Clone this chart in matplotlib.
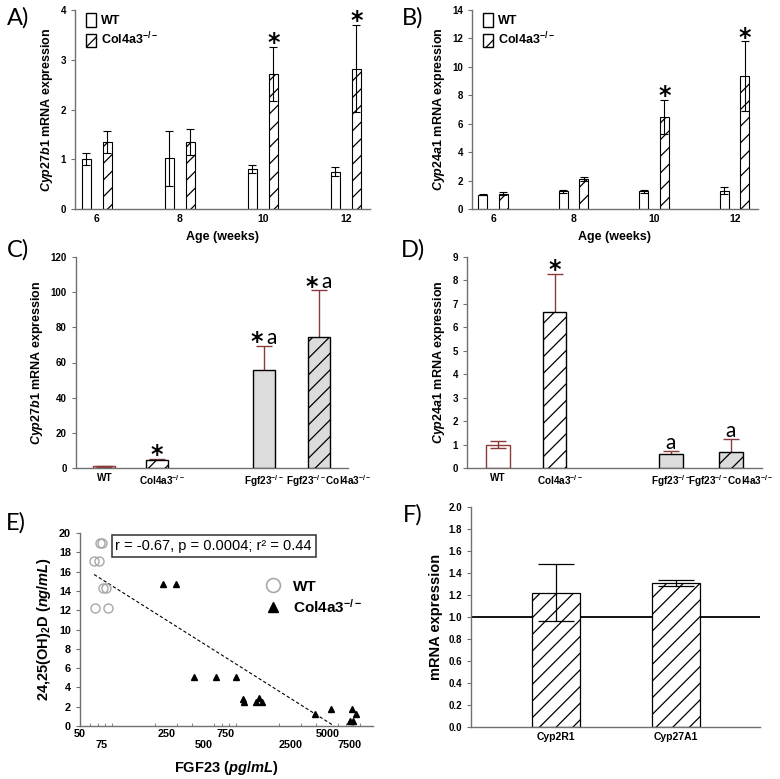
import matplotlib
matplotlib.use("Agg")
import matplotlib.pyplot as plt
import matplotlib.transforms as mtransforms
from matplotlib.lines import Line2D
from matplotlib.patches import Patch
from matplotlib.ticker import FixedLocator, NullFormatter
import numpy as np

plt.rcParams["font.family"] = ["Liberation Sans", "DejaVu Sans"]
plt.rcParams["mathtext.fontset"] = "custom"
plt.rcParams["mathtext.rm"] = "Liberation Sans:bold"
plt.rcParams["mathtext.bf"] = "Liberation Sans:bold"
plt.rcParams["mathtext.it"] = "Liberation Sans:italic:bold"
plt.rcParams["hatch.linewidth"] = 0.9

# ---- data ---------------------------------------------------------------
ages = [6, 8, 10, 12]
a_wt = [1.00, 1.02, 0.80, 0.75]
a_wt_err = [0.12, 0.55, 0.08, 0.09]
a_ko = [1.34, 1.34, 2.72, 2.82]
a_ko_err = [0.22, 0.26, 0.54, 0.88]
a_star = [False, False, True, True]

b_wt = [1.00, 1.25, 1.25, 1.30]
b_wt_err = [0.05, 0.10, 0.12, 0.25]
b_ko = [1.08, 2.10, 6.50, 9.35]
b_ko_err = [0.10, 0.12, 1.20, 2.45]
b_star = [False, False, True, True]

geno = ["WT", "Col4a3$^{-/-}$", "Fgf23$^{-/-}$", "Fgf23$^{-/-}$Col4a3$^{-/-}$"]
c_vals = [1.0, 4.5, 55.8, 74.5]
c_err = [0.3, 0.6, 13.5, 26.5]
c_star = [False, True, True, True]
c_a = [False, False, True, True]
d_vals = [1.0, 6.65, 0.58, 0.68]
d_err = [0.14, 1.63, 0.14, 0.55]
d_star = [False, True, False, False]
d_a = [False, False, True, True]

wt_fgf23 = [66.1, 84.1, 76.6, 81.1, 64.9, 71.1, 72.5, 75.3]
wt_d = [12.2, 12.2, 14.3, 14.3, 17.1, 17.1, 19.0, 19.0]
ko_fgf23 = [233, 297, 415, 625, 906, 1038, 1057, 1306, 1380, 1476,
            3953, 5284, 7850, 8360, 7520, 8000]
ko_d = [14.7, 14.7, 5.1, 5.1, 5.1, 2.8, 2.5, 2.5, 2.85, 2.5,
        1.25, 1.8, 1.8, 1.25, 0.55, 0.55]
fit_intercept, fit_slope = 30.4, -8.11
fit_range = [65, 5580]
e_ticks = [50, 75, 250, 500, 750, 2500, 5000, 7500]

f_genes = ["Cyp2R1", "Cyp27A1"]
f_vals = [1.22, 1.31]
f_err = [0.26, 0.03]

W, H = 780, 779
fig = plt.figure(figsize=(W / 100, H / 100), dpi=100)


def box(l, t, r, b):
    return fig.add_axes([l / W, 1 - b / H, (r - l) / W, (b - t) / H])


def style(ax, xsize=7.5):
    for s in ("top", "right"):
        ax.spines[s].set_visible(False)
    for s in ("left", "bottom"):
        ax.spines[s].set_color("#707070")
        ax.spines[s].set_linewidth(1.0)
    ax.tick_params(axis="y", length=3, width=0.8, color="#707070",
                   labelsize=7)
    ax.tick_params(axis="x", length=0, labelsize=xsize)
    for lab in ax.get_yticklabels() + ax.get_xticklabels():
        lab.set_fontweight("bold")


def panel_letter(x, y, s):
    fig.text(x / W, 1 - y / H, s, fontsize=17, family="Lato",
             ha="center", va="center")


def star(ax, x, y, dx=0):
    ax.annotate("*", (x, y), xytext=(dx, -6), textcoords="offset points",
                ha="center", va="bottom", fontsize=17, fontweight="bold",
                family="DejaVu Sans")


maroon = "#8a3a3a"


def age_panel(box_px, wt, wt_err, ko, ko_err, stars, ylim, step, ylabel):
    ax = box(*box_px)
    x = np.array(ages, dtype=float)
    ax.bar(x - 0.26, wt, 0.22, color="white", edgecolor="black", lw=0.8,
           zorder=2)
    ax.bar(x + 0.25, ko, 0.22, color="white", edgecolor="black", lw=0.8,
           hatch="//", zorder=2)
    ax.errorbar(x - 0.26, wt, yerr=wt_err, fmt="none", ecolor="black",
                elinewidth=0.8, capsize=3, capthick=0.8, zorder=3)
    ax.errorbar(x + 0.25, ko, yerr=ko_err, fmt="none", ecolor="black",
                elinewidth=0.8, capsize=3, capthick=0.8, zorder=3)
    for xi, v, e, s in zip(x, ko, ko_err, stars):
        if s:
            star(ax, xi + 0.25, v + e)
    ax.set_xlim(5.47, 12.58)
    ax.set_ylim(*ylim)
    ax.set_yticks(np.arange(ylim[0], ylim[1] + 0.01, step))
    ax.set_xticks(ages, [str(a) for a in ages])
    ax.set_xlabel("Age (weeks)", fontsize=9, fontweight="bold", labelpad=5)
    ax.set_ylabel(ylabel, fontsize=9, fontweight="bold")
    style(ax)
    ax.legend(handles=[Patch(facecolor="white", edgecolor="black",
                             label="WT"),
                       Patch(facecolor="white", edgecolor="black", hatch="//",
                             label="Col4a3$^{-/-}$")],
              loc="upper left", bbox_to_anchor=(0.0, 1.04), frameon=False,
              handlelength=0.8, handleheight=1.3, handletextpad=0.4,
              labelspacing=0.3, prop={"weight": "bold", "size": 9})
    return ax


age_panel((75, 10, 370, 209), a_wt, a_wt_err, a_ko, a_ko_err, a_star,
          (0, 4), 1, "$\\it{Cyp27b1}$ mRNA expression")
age_panel((472, 10, 758, 209), b_wt, b_wt_err, b_ko, b_ko_err, b_star,
          (0, 14), 2, "$\\it{Cyp24a1}$ mRNA expression")

# ---- C / D --------------------------------------------------------------
gx = np.array([0, 1, 3.05, 4.1])
faces = ["none", "white", "#dcdcdc", "#dcdcdc"]
hatches = ["", "//", "", "//"]
edges = [maroon, "black", "black", "black"]


def geno_panel(box_px, vals, err, stars, a_marks, ylim, step, ylabel,
               last_shift):
    ax = box(*box_px)
    for xi, v, fc, h, ec in zip(gx, vals, faces, hatches, edges):
        ax.bar(xi, v, 0.42, color=fc, edgecolor=ec, hatch=h, lw=1.0,
               zorder=3)
    ax.errorbar(gx, vals, yerr=err, fmt="none", ecolor=maroon,
                elinewidth=1.0, capsize=6, capthick=1.0, zorder=2)
    for xi, v, e, s, a in zip(gx, vals, err, stars, a_marks):
        top = v + e
        if s and a:
            star(ax, xi, top, dx=-5)
            ax.annotate("a", (xi, top), xytext=(5, -1),
                        textcoords="offset points", ha="center",
                        va="bottom", fontsize=15, family="Lato")
        elif s:
            star(ax, xi, top)
        elif a:
            ax.annotate("a", (xi, top), xytext=(0, -1),
                        textcoords="offset points", ha="center",
                        va="bottom", fontsize=15, family="Lato")
    ax.set_xlim(-0.54, 4.65)
    ax.set_ylim(*ylim)
    ax.set_yticks(np.arange(ylim[0], ylim[1] + 0.01, step))
    ax.set_xticks(gx, geno)
    ax.set_ylabel(ylabel, fontsize=9, fontweight="bold")
    style(ax, xsize=7.2)
    labs = ax.get_xticklabels()
    labs[1].set_transform(labs[1].get_transform() + mtransforms.ScaledTranslation(
        0.05, 0, fig.dpi_scale_trans))
    labs[3].set_transform(labs[3].get_transform() + mtransforms.ScaledTranslation(
        last_shift, 0, fig.dpi_scale_trans))
    return ax


geno_panel((76, 257, 348, 468), c_vals, c_err, c_star, c_a, (0, 120), 20,
           "$\\it{Cyp27b1}$ mRNA expression", 0.1)
geno_panel((467, 257, 762, 468), d_vals, d_err, d_star, d_a, (0, 9), 1,
           "$\\it{Cyp24a1}$ mRNA expression", 0.0)

# ---- E ------------------------------------------------------------------
ax = box(80, 533, 373, 726)
ax.set_xscale("log")
ax.plot(wt_fgf23, wt_d, "o", ms=6.5, mfc="none", mec="#a8a8a8", mew=1.0,
        zorder=3)
ax.plot(ko_fgf23, ko_d, "^", ms=4.5, color="black", zorder=3)
fx = np.array(fit_range, dtype=float)
ax.plot(fx, fit_intercept + fit_slope * np.log10(fx), ls=(0, (3, 2)),
        color="black", lw=0.8)
ax.set_xlim(50, 11500)
ax.set_ylim(0, 20)
ax.set_yticks(range(0, 21, 2))
ax.xaxis.set_major_locator(FixedLocator(e_ticks))
ax.set_xticklabels([str(t) if i % 2 == 0 else "\n" + str(t)
                    for i, t in enumerate(e_ticks)])
ax.xaxis.set_minor_formatter(NullFormatter())
style(ax)
ax.tick_params(axis="x", which="major", length=0, labelsize=7.8, pad=2)
ax.tick_params(axis="x", which="minor", direction="in", length=2.5,
               width=0.6, color="#707070")
ax.tick_params(axis="y", labelsize=7.8)
ax.set_xlabel("FGF23 $\\it{(pg/mL)}$", fontsize=10.5, fontweight="bold",
              labelpad=6)
ax.set_ylabel("24,25(OH)$_2$D $\\it{(ng/mL)}$", fontsize=10.5,
              fontweight="bold")
ax.text(0.456, 0.933, "r = -0.67, p = 0.0004; r² = 0.44",
        transform=ax.transAxes, ha="center", va="center", fontsize=10.5,
        bbox=dict(boxstyle="square,pad=0.25", fc="white", ec="#404040",
                  lw=1.2))
ax.legend(handles=[Line2D([], [], ls="none", marker="o", ms=10, mfc="none",
                          mec="#a8a8a8", mew=1.2, label="WT"),
                   Line2D([], [], ls="none", marker="^", ms=7,
                          color="black", label="Col4a3$^{-/-}$")],
          loc="upper left", bbox_to_anchor=(0.56, 0.83), frameon=False,
          handletextpad=0.3, labelspacing=0.25,
          prop={"weight": "bold", "size": 11})

# ---- F ------------------------------------------------------------------
ax = box(471, 507, 760, 727)
fxp = np.arange(len(f_genes))
ax.axhline(1.0, color="black", lw=1.3, zorder=1)
ax.bar(fxp, f_vals, 0.4, color="white", edgecolor="black", hatch="//",
       lw=0.9, zorder=2)
ax.errorbar(fxp, f_vals, yerr=f_err, fmt="none", ecolor="black",
            elinewidth=0.9, capsize=13, capthick=0.9, zorder=3)
ax.set_xlim(-0.71, 1.7)
ax.set_ylim(0, 2.0)
ax.set_yticks(np.arange(0, 2.01, 0.2))
ax.set_yticklabels([f"{v:.1f}" for v in np.arange(0, 2.01, 0.2)])
ax.set_xticks(fxp, f_genes)
ax.set_ylabel("mRNA expression", fontsize=10.5, fontweight="bold")
style(ax)

panel_letter(18, 18, "A)")
panel_letter(413, 18, "B)")
panel_letter(18, 250, "C)")
panel_letter(413, 250, "D)")
panel_letter(16, 523, "E)")
panel_letter(413, 515, "F)")

fig.savefig("out.png", dpi=100)
